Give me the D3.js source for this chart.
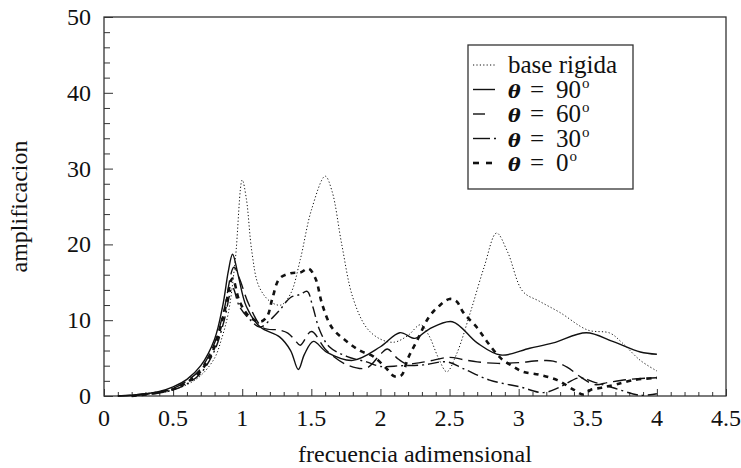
<!DOCTYPE html>
<html>
<head>
<meta charset="utf-8">
<script src="https://cdn.jsdelivr.net/npm/d3@7"></script>
<style>
  body { margin: 0; background: #fff; }
  text { font-family: "Liberation Serif", "Times New Roman", serif; fill: #111; }
</style>
</head>
<body>
<svg id="svg" width="741" height="468"></svg>
<script>
// values (frequency, amplification)
const baseRigida = [[0.2,0],[0.3,0.2],[0.4,0.4],[0.5,0.8],[0.6,1.5],[0.7,2.7],[0.8,5],[0.85,7.5],[0.9,11],[0.95,18],[1.0,28.5],[1.03,26],[1.07,19],[1.12,14.5],[1.2,12.5],[1.28,12],[1.35,13.5],[1.42,18],[1.5,24.5],[1.6,29],[1.65,27],[1.72,20],[1.8,13],[1.9,9],[2.0,7.5],[2.1,7.1],[2.2,8],[2.29,9.4],[2.35,8],[2.42,5],[2.48,3.2],[2.55,5.5],[2.65,11],[2.75,17],[2.84,21.5],[2.92,19],[3.03,13.8],[3.15,12.5],[3.3,11],[3.5,8.7],[3.66,8.3],[3.75,7],[3.88,4.7],[4.0,3.3]]
const theta90 = [[0.1,0],[0.2,0.1],[0.3,0.3],[0.4,0.6],[0.5,1.2],[0.6,2.2],[0.7,4],[0.8,7.5],[0.86,12],[0.9,16.5],[0.93,18.7],[0.97,16],[1.03,11.8],[1.13,9.1],[1.27,7.8],[1.35,6],[1.406,3.5],[1.45,5.5],[1.515,7.2],[1.61,5.8],[1.8,4.7],[2.0,6.5],[2.14,8.35],[2.25,7.6],[2.35,8.8],[2.52,9.8],[2.7,7],[2.87,5.4],[3.08,6.3],[3.25,7],[3.49,8.35],[3.68,7.2],[3.88,5.8],[4.0,5.5]]
const theta60 = [[0.1,0],[0.2,0.1],[0.3,0.3],[0.4,0.5],[0.5,1.0],[0.6,2],[0.7,3.6],[0.8,7],[0.87,11.5],[0.94,17],[0.98,15.5],[1.05,12],[1.15,9],[1.27,8.7],[1.33,8.3],[1.38,7.4],[1.42,6.7],[1.5,8.5],[1.61,6],[1.76,4.1],[1.9,3.7],[2.0,5.5],[2.05,6.2],[2.12,5],[2.18,4.3],[2.25,4.3],[2.35,4.6],[2.5,5.1],[2.6,4.8],[2.7,4.5],[2.85,4.3],[3.0,4.4],[3.15,4.65],[3.25,4.6],[3.35,3.8],[3.45,2.5],[3.55,1.5],[3.65,1.8],[3.8,2.2],[4.0,2.4]]
const theta30 = [[0.2,0],[0.3,0.2],[0.4,0.4],[0.5,0.8],[0.6,1.6],[0.7,3],[0.8,6],[0.87,10],[0.93,14.3],[0.98,11.8],[1.06,10],[1.13,9.1],[1.2,10],[1.27,11.3],[1.35,13],[1.42,13.4],[1.47,13.8],[1.51,11.8],[1.56,8.7],[1.63,6.5],[1.76,5.2],[1.9,4.5],[2.0,3.9],[2.15,4.0],[2.31,4.1],[2.48,4.5],[2.6,3.6],[2.79,2.1],[3.01,1.2],[3.18,0.45],[3.3,1.2],[3.44,2.4],[3.55,1.8],[3.69,1.05],[3.88,0.1],[4.0,0.3]]
const theta0 = [[0.2,0],[0.3,0.2],[0.4,0.5],[0.5,0.9],[0.6,1.8],[0.7,3.3],[0.8,6.5],[0.87,11],[0.93,15.5],[0.98,12.5],[1.05,10.5],[1.13,9.8],[1.18,10.5],[1.22,13],[1.27,15.5],[1.35,16.2],[1.42,16.3],[1.48,16.8],[1.53,15.5],[1.58,12],[1.65,9],[1.75,7.3],[1.85,6],[1.95,5.2],[2.05,3.5],[2.1,2.6],[2.15,2.7],[2.2,5],[2.27,7.5],[2.35,10.4],[2.42,11.8],[2.5,12.8],[2.55,12.5],[2.6,11],[2.7,9],[2.77,7.2],[2.87,5],[2.96,3.9],[3.03,3.2],[3.15,2.8],[3.28,2.1],[3.4,0.8],[3.47,0.2],[3.52,0.8],[3.6,1.1],[3.7,1.5],[3.83,2.1],[4.0,2.4]]

const xTicks = [0, 0.5, 1, 1.5, 2, 2.5, 3, 3.5, 4, 4.5]
const yTicks = [0, 10, 20, 30, 40, 50]
const legendNames = ["base rigida", "90", "60", "30", "0"]

const series = [
  { data: baseRigida, dash: "1.2,2.2", width: 1, sample: [[0, 22]] },
  { data: theta90, dash: null, width: 1.4, sample: [[0, 22]] },
  { data: theta60, dash: "13,6", width: 1.4, sample: [[0, 12]] },
  { data: theta30, dash: "11,4,2,4", width: 1.4, sample: [[0, 17], [21, 23]] },
  { data: theta0, dash: "5,5", width: 2.6, sample: [[0, 6], [13, 19]] }
]

const svg = d3.select("#svg")
const margin = { left: 104, right: 15, top: 17, bottom: 72 }
const W = 741, H = 468

const x = d3.scaleLinear().domain([0, 4.5]).range([margin.left, W - margin.right])
const y = d3.scaleLinear().domain([0, 50]).range([H - margin.bottom, margin.top])

// frame
svg.append("rect")
  .attr("x", x(0)).attr("y", y(50))
  .attr("width", x(4.5) - x(0)).attr("height", y(0) - y(50))
  .attr("fill", "none").attr("stroke", "#333").attr("stroke-width", 1.3)

// inward ticks on bottom and left
const xAxis = d3.axisBottom(x).tickValues(d3.range(0, 4.51, 0.1)).tickSize(-4).tickFormat("")
const gx = svg.append("g").attr("transform", `translate(0,${y(0)})`).call(xAxis)
gx.selectAll(".tick line").attr("y2", d => Math.abs(d * 2 - Math.round(d * 2)) < 1e-6 ? -7 : -4)
gx.select(".domain").remove()

const yAxis = d3.axisLeft(y).tickValues(d3.range(0, 50.1, 2)).tickSize(-6).tickFormat("")
const gy = svg.append("g").attr("transform", `translate(${x(0)},0)`).call(yAxis)
gy.selectAll(".tick line").attr("x2", d => d % 10 === 0 ? 9 : 6)
gy.select(".domain").remove()
svg.selectAll(".tick line").attr("stroke", "#333")

// tick labels
svg.append("g").selectAll("text").data(xTicks).enter().append("text")
  .attr("x", d => x(d)).attr("y", y(0) + 30)
  .attr("text-anchor", "middle").attr("font-size", 24)
  .text(d => d)
svg.append("g").selectAll("text").data(yTicks).enter().append("text")
  .attr("x", x(0) - 13).attr("y", d => y(d) + 8)
  .attr("text-anchor", "end").attr("font-size", 24)
  .text(d => d)

// axis titles
svg.append("text").attr("x", (x(0) + x(4.5)) / 2).attr("y", 462)
  .attr("text-anchor", "middle").attr("font-size", 24).text("frecuencia adimensional")
svg.append("text").attr("transform", `translate(27,${(y(0) + y(50)) / 2}) rotate(-90)`)
  .attr("text-anchor", "middle").attr("font-size", 24).text("amplificacion")

// curves
const line = d3.line().x(d => x(d[0])).y(d => y(d[1])).curve(d3.curveCatmullRom.alpha(0.5))
series.forEach(s => {
  svg.append("path").datum(s.data)
    .attr("d", line)
    .attr("fill", "none").attr("stroke", "#111")
    .attr("stroke-width", s.width)
    .attr("stroke-dasharray", s.dash)
})

// legend
const lg = svg.append("g").attr("transform", "translate(468,45)")
lg.append("rect").attr("width", 165).attr("height", 144)
  .attr("fill", "#fff").attr("stroke", "#333").attr("stroke-width", 1.3)
series.forEach((s, i) => {
  const yy = 20 + i * 24.5
  s.sample.forEach(seg => {
    lg.append("line").attr("x1", 5 + seg[0]).attr("x2", 5 + seg[1])
      .attr("y1", yy).attr("y2", yy)
      .attr("stroke", "#111").attr("stroke-width", s.width)
      .attr("stroke-dasharray", i === 0 ? s.dash : null)
  })
  const t = lg.append("text").attr("x", 40).attr("y", yy + 8).attr("font-size", 25)
  if (i === 0) {
    t.text(legendNames[i])
  } else {
    // one text per row: θ, =, value and a raised "o"
    t.append("tspan").attr("font-style", "italic").attr("font-weight", "bold")
      .attr("font-family", "DejaVu Serif").attr("font-size", 19).text("θ")
    t.append("tspan").attr("x", 62).text("=")
    t.append("tspan").attr("x", 88).text(legendNames[i])
    t.append("tspan").attr("dy", -10).attr("dx", 1).attr("font-size", 15).text("o")
  }
})
</script>
</body>
</html>
